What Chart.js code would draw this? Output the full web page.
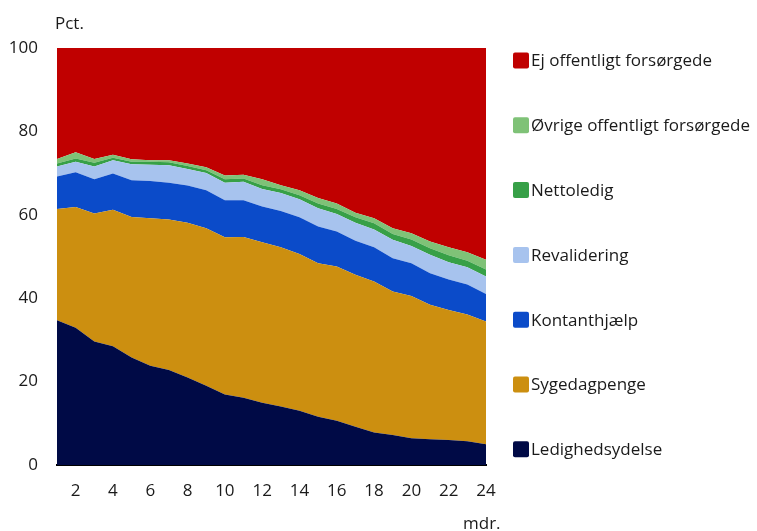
<!DOCTYPE html>
<html>
<head>
<meta charset="utf-8">
<script src="https://cdn.jsdelivr.net/npm/chart.js@4/dist/chart.umd.min.js"></script>
<style>
  html, body { margin: 0; padding: 0; background: #fff; }
  #wrap { width: 757px; height: 531px; position: relative; }
</style>
</head>
<body>
<div id="wrap"><canvas id="chart" width="757" height="531"></canvas></div>
<script>
// months after start
const months = Array.from({ length: 24 }, (_, i) => i + 1);

// Shares in pct. (stacked bottom to top)
const ledighedsydelse = [34.7, 32.9, 29.6, 28.5, 25.8, 23.8, 22.8, 21.0, 19.0, 16.9, 16.1, 14.9,
                         14.0, 13.0, 11.6, 10.6, 9.2, 7.8, 7.2, 6.4, 6.2, 6.0, 5.7, 5.0];
const sygedagpenge = [26.7, 29.0, 30.7, 32.7, 33.7, 35.4, 36.1, 37.1, 37.8, 37.7, 38.6, 38.5,
                      38.2, 37.6, 36.8, 37.0, 36.4, 36.2, 34.4, 34.1, 32.2, 31.2, 30.4, 29.4];
const kontanthjaelp = [7.8, 8.3, 8.2, 8.7, 8.8, 8.9, 8.8, 8.9, 9.1, 8.9, 8.8, 8.6,
                       8.7, 8.8, 8.8, 8.4, 8.2, 8.2, 8.0, 7.9, 7.6, 7.3, 7.2, 6.6];
const revalidering = [2.4, 2.5, 3.1, 3.2, 3.8, 3.9, 4.2, 4.0, 4.1, 4.2, 4.4, 4.2,
                      4.3, 4.3, 4.4, 4.2, 4.3, 4.3, 4.4, 4.1, 4.4, 4.1, 4.1, 4.2];
const nettoledig = [0.7, 0.8, 0.9, 0.6, 0.6, 0.7, 0.7, 0.7, 0.7, 0.8, 0.8, 0.9,
                    0.9, 1.0, 1.1, 1.2, 1.3, 1.5, 1.4, 1.6, 1.6, 1.7, 1.6, 1.7];
const oevrige = [1.1, 1.5, 0.9, 0.7, 0.6, 0.4, 0.5, 0.6, 0.7, 0.9, 0.9, 1.4,
                 1.0, 1.2, 1.3, 1.3, 1.1, 1.2, 1.4, 1.5, 1.6, 1.9, 2.0, 2.3];
const ejOffentligt = [26.6, 25.0, 26.6, 25.6, 26.7, 26.9, 26.9, 27.7, 28.6, 30.6, 30.4, 31.5,
                      32.9, 34.1, 36.0, 37.3, 39.5, 40.8, 43.2, 44.4, 46.4, 47.8, 49.0, 50.8];

const yTicks = [0, 20, 40, 60, 80, 100];

const FONT = '"Open Sans", sans-serif';
const TXT = '#1a1a1a';

function area(label, data, color, first) {
    return {
        label: label,
        data: data,
        backgroundColor: color,
        borderColor: color,
        borderWidth: 0,
        pointRadius: 0,
        pointHoverRadius: 0,
        tension: 0,
        fill: first ? 'origin' : '-1'
    };
}

// legend + axis captions drawn by hand so they sit where the original has them
const extras = {
    id: 'extras',
    afterDraw(chart) {
        const ctx = chart.ctx;
        ctx.save();
        ctx.font = '17px ' + FONT;
        ctx.fillStyle = TXT;
        ctx.textBaseline = 'alphabetic';
        ctx.textAlign = 'left';
        ctx.fillText('Pct.', 55, 29);
        ctx.fillText('mdr.', 463, 529);

        const sets = chart.data.datasets.slice().reverse();
        ctx.textBaseline = 'middle';
        sets.forEach((ds, i) => {
            const cy = 60.5 + i * 64.8;
            ctx.fillStyle = ds.backgroundColor;
            ctx.beginPath();
            ctx.roundRect(513, cy - 8, 16, 16, 2);
            ctx.fill();
            ctx.fillStyle = TXT;
            ctx.fillText(ds.label, 531, cy + 1);
        });
        ctx.restore();
    }
};

new Chart(document.getElementById('chart'), {
    type: 'line',
    data: {
        labels: months,
        datasets: [
            area('Ledighedsydelse', ledighedsydelse, '#000A46', true),
            area('Sygedagpenge', sygedagpenge, '#CC8F10'),
            area('Kontanthjælp', kontanthjaelp, '#0B4BC9'),
            area('Revalidering', revalidering, '#A7C3EE'),
            area('Nettoledig', nettoledig, '#37A047'),
            area('Øvrige offentligt forsørgede', oevrige, '#7FC277'),
            area('Ej offentligt forsørgede', ejOffentligt, '#C00000')
        ]
    },
    options: {
        responsive: false,
        animation: false,
        layout: { padding: { top: 48, right: 271, left: 0, bottom: 0 } },
        plugins: {
            legend: { display: false },
            tooltip: { enabled: false }
        },
        scales: {
            x: {
                offset: false,
                grid: { display: false, drawTicks: false },
                border: { display: true, color: '#000', width: 2 },
                ticks: {
                    autoSkip: false,
                    maxRotation: 0,
                    padding: 16,
                    color: TXT,
                    font: { family: FONT, size: 17 },
                    callback: function (v, i) {
                        const m = months[i];
                        return m % 2 === 0 ? String(m) : '';
                    }
                },
                afterFit: s => { s.height = 66; }
            },
            y: {
                stacked: true,
                min: 0,
                max: 100,
                grid: { display: false, drawTicks: false },
                border: { display: false },
                afterBuildTicks: s => { s.ticks = yTicks.map(v => ({ value: v })); },
                ticks: {
                    padding: 19,
                    color: TXT,
                    font: { family: FONT, size: 17 }
                },
                afterFit: s => { s.width = 57; }
            }
        }
    },
    plugins: [extras]
});
</script>
</body>
</html>
